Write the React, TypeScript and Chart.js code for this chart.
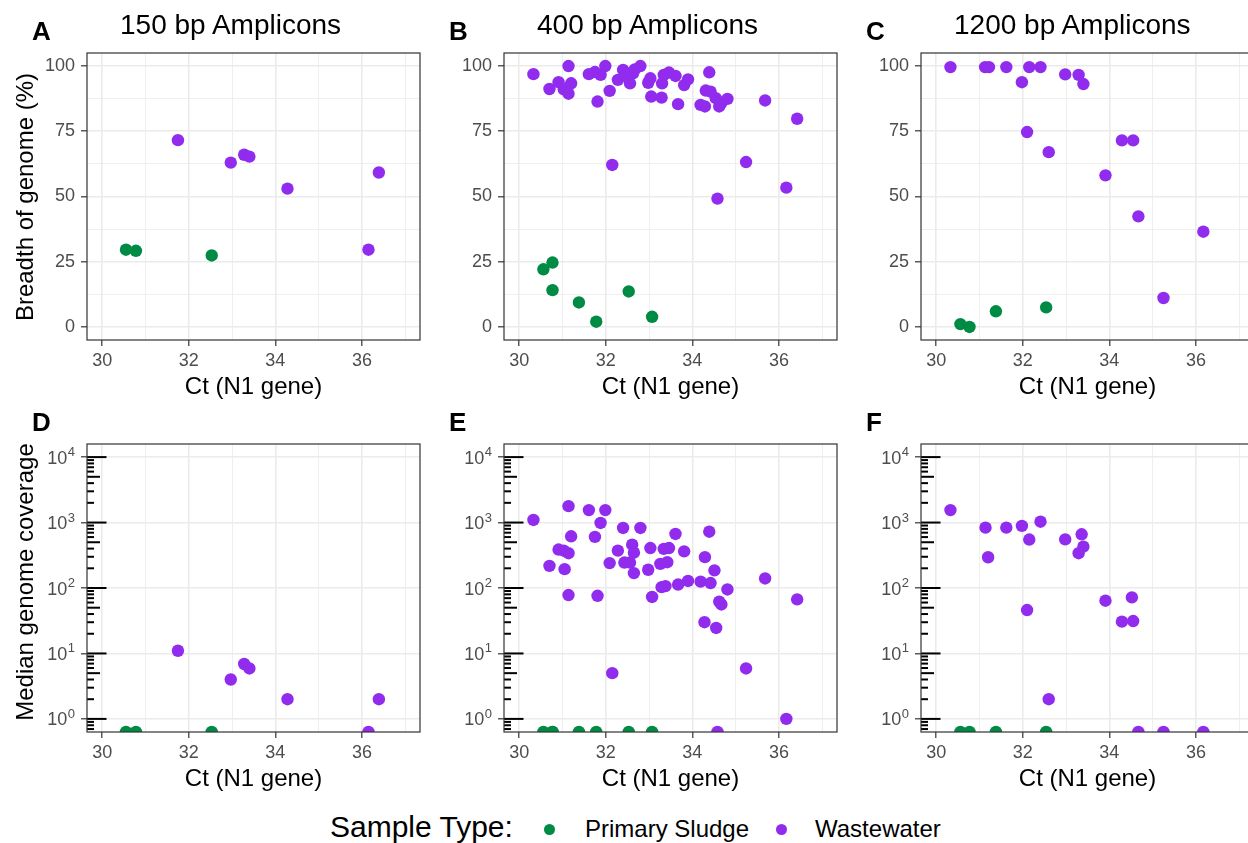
import React, { useEffect, useRef } from 'react';
import { Chart, registerables } from 'chart.js';

Chart.register(...registerables);

const FONT = '"Liberation Sans", Arial, Helvetica, sans-serif';
const GREEN = '#008B45';
const PURPLE = '#912CEE';

// ---- axes ----
const X_MIN = 29.65;
const X_MAX = 37.34;
const X_TICKS = [30, 31, 32, 33, 34, 35, 36, 37];
const X_MAJOR = [30, 32, 34, 36];
const BREADTH_MIN = -5;
const BREADTH_MAX = 105;
const BREADTH_TICKS = [0, 12.5, 25, 37.5, 50, 62.5, 75, 87.5, 100];
const BREADTH_MAJOR = [0, 25, 50, 75, 100];
const COVERAGE_MIN = Math.pow(10, -0.2);
const COVERAGE_MAX = Math.pow(10, 4.2);
const COVERAGE_TICKS = [1, 10, 100, 1000, 10000];
const COVERAGE_BASE = '10';
const COVERAGE_EXPONENTS = ['0', '1', '2', '3', '4'];

const TITLES = ['150 bp Amplicons', '400 bp Amplicons', '1200 bp Amplicons'];
const LETTERS_TOP = ['A', 'B', 'C'];
const LETTERS_BOTTOM = ['D', 'E', 'F'];
const SERIES_NAMES = ['Primary Sludge', 'Wastewater'];

// ---- 150 bp ----
const CT_150_SLUDGE = [30.55, 30.78, 32.53];
const BREADTH_150_SLUDGE = [29.6, 29.2, 27.4];
const COVERAGE_150_SLUDGE = [0, 0, 0];
const CT_150_WW = [31.75, 32.97, 33.28, 33.4, 34.28, 36.39, 36.15];
const BREADTH_150_WW = [71.6, 63.0, 66.0, 65.3, 53.0, 59.2, 29.6];
const COVERAGE_150_WW = [11, 4.0, 6.9, 5.9, 2.0, 2.0, 0];

// ---- 400 bp ----
const CT_400_SLUDGE = [30.56, 30.77, 30.77, 31.38, 31.78, 32.53, 33.07];
const BREADTH_400_SLUDGE = [22.1, 24.7, 14.1, 9.4, 2.0, 13.6, 3.9];
const COVERAGE_400_SLUDGE = [0, 0, 0, 0, 0, 0, 0];
const CT_400_WW_BREADTH = [
  30.33, 30.7, 30.91, 31.14, 31.2, 31.03, 31.14, 31.61, 31.75, 31.88, 31.99, 31.81,
  32.09, 32.28, 32.4, 32.49, 32.56, 32.63, 32.8, 32.67, 32.98, 33.05, 33.03, 33.29,
  33.3, 33.34, 33.46, 33.61, 33.67, 33.81, 33.9, 34.39, 34.19, 34.29, 34.31, 34.42,
  34.54, 34.62, 34.67, 34.81, 35.68, 36.42, 32.15, 35.24, 36.17, 34.58,
];
const BREADTH_400_WW = [
  96.9, 91.2, 93.8, 100, 93.4, 91.1, 89.4, 96.9, 97.7, 96.6, 100, 86.4,
  90.5, 94.7, 98.5, 95.9, 93.4, 97.2, 100, 98.7, 93.6, 88.3, 95.3, 87.9,
  93.4, 96.6, 97.5, 96.2, 85.4, 92.7, 94.9, 97.6, 85.1, 84.5, 90.6, 90.2,
  87.7, 84.5, 85.8, 87.4, 86.8, 79.8, 62.1, 63.2, 53.4, 49.2,
];
const CT_400_WW_COVERAGE = [
  30.33, 31.14, 31.61, 31.99, 31.88, 31.2, 31.75, 30.91, 31.03, 31.14, 30.7, 31.05,
  31.14, 31.81, 32.09, 32.28, 32.4, 32.43, 32.56, 32.61, 32.65, 32.65, 32.8, 32.98,
  33.03, 33.07, 33.29, 33.38, 33.26, 33.42, 33.34, 33.46, 33.61, 33.67, 33.81, 33.9,
  34.19, 34.39, 34.29, 34.42, 34.51, 34.81, 34.62, 34.67, 34.28, 34.55, 35.68, 36.42,
  32.15, 35.24, 36.17, 34.58,
];
const COVERAGE_400_WW = [
  1096, 1780, 1550, 1550, 985, 617, 603, 387, 371, 340, 218, 194,
  78, 76, 240, 373, 827, 245, 245, 459, 346, 169, 827, 190,
  408, 73, 103, 107, 234, 248, 396, 408, 670, 113, 363, 128,
  125, 725, 296, 119, 186, 95, 62, 56, 30, 24.5, 140, 67,
  5, 5.9, 1, 0,
];

// ---- 1200 bp ----
const CT_1200_SLUDGE = [30.56, 30.77, 31.38, 32.54];
const BREADTH_1200_SLUDGE = [1.1, 0, 6.0, 7.5];
const COVERAGE_1200_SLUDGE = [0, 0, 0, 0];
const CT_1200_WW_BREADTH = [
  30.33, 31.13, 31.22, 31.62, 32.15, 32.41, 31.98, 32.98, 33.29, 33.4,
  32.1, 32.6, 33.91, 34.29, 34.55, 34.67, 36.17, 35.25,
];
const BREADTH_1200_WW = [
  99.6, 99.6, 99.6, 99.6, 99.6, 99.6, 93.8, 96.8, 96.6, 93.1,
  74.7, 67.0, 58.1, 71.5, 71.5, 42.4, 36.5, 11.1,
];
const CT_1200_WW_COVERAGE = [
  30.33, 31.14, 31.2, 31.62, 31.98, 32.15, 32.41, 32.1, 32.6, 32.98,
  33.36, 33.4, 33.29, 33.91, 34.52, 34.29, 34.55, 34.67, 35.25, 36.17,
];
const COVERAGE_1200_WW = [
  1550, 835, 295, 835, 890, 550, 1030, 46, 2.0, 553,
  661, 428, 340, 64, 72, 30.6, 31.3, 0, 0, 0,
];

// ---- layout (pixels) ----
const PAD_T = 20;
const PAD_R = 10;
const Y_AXIS_W = 60;
const X_AXIS_H = 36;

const panelPlugin = {
  id: 'panelDeco',
  afterDatasetsDraw(chart: any, _args: any, opts: any) {
    const { ctx, chartArea: a } = chart;
    ctx.save();
    if (opts && opts.log) {
      const ys = chart.scales.y;
      ctx.strokeStyle = '#000000';
      ctx.lineWidth = 2;
      for (let k = -1; k <= 4; k++) {
        for (let m = 1; m <= 9; m++) {
          const v = m * Math.pow(10, k);
          if (v < COVERAGE_MIN || v > COVERAGE_MAX) continue;
          const y = ys.getPixelForValue(v);
          const len = m === 1 ? 19.5 : m === 5 ? 13 : 7;
          ctx.beginPath();
          ctx.moveTo(a.left, y);
          ctx.lineTo(a.left + len, y);
          ctx.stroke();
        }
      }
    }
    ctx.strokeStyle = '#333333';
    ctx.lineWidth = 1.2;
    ctx.strokeRect(a.left, a.top, a.right - a.left, a.bottom - a.top);
    ctx.restore();
  },
  afterDraw(chart: any, _args: any, opts: any) {
    if (!opts || !opts.log) return;
    const { ctx, chartArea: a } = chart;
    const ys = chart.scales.y;
    ctx.save();
    ctx.fillStyle = '#4D4D4D';
    ctx.textAlign = 'right';
    ctx.textBaseline = 'alphabetic';
    COVERAGE_TICKS.forEach((v, i) => {
      const y = ys.getPixelForValue(v);
      const right = a.left - 12;
      ctx.font = `13px ${FONT}`;
      const ew = ctx.measureText(COVERAGE_EXPONENTS[i]).width;
      ctx.fillText(COVERAGE_EXPONENTS[i], right, y - 1);
      ctx.font = `18px ${FONT}`;
      ctx.fillText(COVERAGE_BASE, right - ew - 0.5, y + 6.5);
    });
    ctx.restore();
  },
};

type PanelProps = {
  sludgeX: number[];
  sludgeY: number[];
  wwX: number[];
  wwY: number[];
  log: boolean;
  L: number;
  R: number;
  T: number;
  B: number;
};

function Panel(p: PanelProps) {
  const ref = useRef<HTMLCanvasElement>(null);
  const left = p.L - Y_AXIS_W;
  const top = p.T - PAD_T;
  const width = p.R - p.L + Y_AXIS_W + PAD_R;
  const height = p.B - p.T + PAD_T + X_AXIS_H;

  useEffect(() => {
    if (!ref.current) return;
    const toPts = (xs: number[], ys: number[]) =>
      xs.map((x, i) => ({ x, y: p.log && ys[i] <= 0 ? COVERAGE_MIN : ys[i] }));
    const ds = (data: any[], color: string) => ({
      data,
      backgroundColor: color,
      borderWidth: 0,
      pointRadius: 6.2,
      pointHoverRadius: 6.2,
      pointBorderWidth: 0,
      clip: 0,
    });
    const tickFont = { family: FONT, size: 18 };
    const yMajor = (v: number) => (p.log ? true : BREADTH_MAJOR.includes(v));
    const chart = new Chart(ref.current, {
      type: 'scatter',
      data: {
        datasets: [
          ds(toPts(p.sludgeX, p.sludgeY), GREEN),
          ds(toPts(p.wwX, p.wwY), PURPLE),
        ],
      },
      options: {
        responsive: false,
        animation: false,
        events: [],
        layout: { padding: { top: PAD_T, right: PAD_R, left: 0, bottom: 0 } },
        plugins: {
          legend: { display: false },
          tooltip: { enabled: false },
          title: { display: false },
          panelDeco: { log: p.log },
        } as any,
        scales: {
          x: {
            type: 'linear',
            position: 'bottom',
            min: X_MIN,
            max: X_MAX,
            bounds: 'data',
            afterBuildTicks: (s: any) => {
              s.ticks = X_TICKS.map((v) => ({ value: v }));
            },
            afterFit: (s: any) => {
              s.height = X_AXIS_H;
            },
            ticks: {
              autoSkip: false,
              maxRotation: 0,
              minRotation: 0,
              padding: 4.5,
              color: '#4D4D4D',
              font: tickFont,
              callback: (v: any) => (X_MAJOR.includes(Number(v)) ? String(v) : ''),
            },
            grid: {
              color: '#EBEBEB',
              lineWidth: (c: any) => (c.tick && X_MAJOR.includes(c.tick.value) ? 1.6 : 0.8),
              tickLength: 6,
              tickWidth: 1.2,
              tickColor: (c: any) =>
                c.tick && X_MAJOR.includes(c.tick.value) ? '#333333' : 'rgba(0,0,0,0)',
            },
            border: { display: false },
          },
          y: p.log
            ? {
                type: 'logarithmic',
                position: 'left',
                min: COVERAGE_MIN,
                max: COVERAGE_MAX,
                bounds: 'data',
                afterBuildTicks: (s: any) => {
                  s.ticks = COVERAGE_TICKS.map((v) => ({ value: v }));
                },
                afterFit: (s: any) => {
                  s.width = Y_AXIS_W;
                },
                ticks: {
                  autoSkip: false,
                  padding: 6,
                  color: '#4D4D4D',
                  font: tickFont,
                  callback: () => '',
                },
                grid: {
                  color: '#EBEBEB',
                  lineWidth: 1.6,
                  tickLength: 6,
                  tickWidth: 1.2,
                  tickColor: '#333333',
                },
                border: { display: false },
              }
            : {
                type: 'linear',
                position: 'left',
                min: BREADTH_MIN,
                max: BREADTH_MAX,
                bounds: 'data',
                afterBuildTicks: (s: any) => {
                  s.ticks = BREADTH_TICKS.map((v) => ({ value: v }));
                },
                afterFit: (s: any) => {
                  s.width = Y_AXIS_W;
                },
                ticks: {
                  autoSkip: false,
                  padding: 6,
                  color: '#4D4D4D',
                  font: tickFont,
                  callback: (v: any) => (BREADTH_MAJOR.includes(Number(v)) ? String(v) : ''),
                },
                grid: {
                  color: '#EBEBEB',
                  lineWidth: (c: any) => (c.tick && yMajor(c.tick.value) ? 1.6 : 0.8),
                  tickLength: 6,
                  tickWidth: 1.2,
                  tickColor: (c: any) =>
                    c.tick && yMajor(c.tick.value) ? '#333333' : 'rgba(0,0,0,0)',
                },
                border: { display: false },
              },
        },
      } as any,
      plugins: [panelPlugin],
    });
    return () => chart.destroy();
  }, []);

  return (
    <canvas
      ref={ref}
      width={width}
      height={height}
      style={{ position: 'absolute', left, top, width, height }}
    />
  );
}

function Txt(props: {
  x: number;
  baseline: number;
  size: number;
  bold?: boolean;
  center?: boolean;
  color?: string;
  children: React.ReactNode;
}) {
  const { x, baseline, size, bold, center, color, children } = props;
  const top = baseline - 0.8465 * size;
  return (
    <div
      style={{
        position: 'absolute',
        left: center ? x - 500 : x,
        width: center ? 1000 : undefined,
        top,
        height: size,
        lineHeight: `${size}px`,
        fontSize: size,
        fontWeight: bold ? 'bold' : 'normal',
        textAlign: center ? 'center' : 'left',
        whiteSpace: 'nowrap',
        color: color || '#000000',
        fontFamily: FONT,
      }}
    >
      {children}
    </div>
  );
}

function YTitle(props: { cx: number; cy: number; children: React.ReactNode }) {
  const w = 400;
  const size = 24;
  return (
    <div
      style={{
        position: 'absolute',
        left: props.cx - w / 2,
        top: props.cy - size / 2,
        width: w,
        height: size,
        lineHeight: `${size}px`,
        fontSize: size,
        textAlign: 'center',
        whiteSpace: 'nowrap',
        transform: 'rotate(-90deg)',
        transformOrigin: 'center center',
        fontFamily: FONT,
        color: '#000000',
      }}
    >
      {props.children}
    </div>
  );
}

export default function App() {
  const COLS = [
    { L: 87, R: 420 },
    { L: 504, R: 837 },
    { L: 921, R: 1254 },
  ];
  const ROWS = [
    { T: 53, B: 340 },
    { T: 444, B: 732 },
  ];
  const series = [
    {
      top: { sx: CT_150_SLUDGE, sy: BREADTH_150_SLUDGE, wx: CT_150_WW, wy: BREADTH_150_WW },
      bot: { sx: CT_150_SLUDGE, sy: COVERAGE_150_SLUDGE, wx: CT_150_WW, wy: COVERAGE_150_WW },
    },
    {
      top: { sx: CT_400_SLUDGE, sy: BREADTH_400_SLUDGE, wx: CT_400_WW_BREADTH, wy: BREADTH_400_WW },
      bot: { sx: CT_400_SLUDGE, sy: COVERAGE_400_SLUDGE, wx: CT_400_WW_COVERAGE, wy: COVERAGE_400_WW },
    },
    {
      top: { sx: CT_1200_SLUDGE, sy: BREADTH_1200_SLUDGE, wx: CT_1200_WW_BREADTH, wy: BREADTH_1200_WW },
      bot: { sx: CT_1200_SLUDGE, sy: COVERAGE_1200_SLUDGE, wx: CT_1200_WW_COVERAGE, wy: COVERAGE_1200_WW },
    },
  ];

  return (
    <div
      style={{
        position: 'fixed',
        left: 0,
        top: 0,
        width: 1248,
        height: 843,
        overflow: 'hidden',
        background: '#ffffff',
        fontFamily: FONT,
      }}
    >
      {COLS.map((c, i) => (
        <React.Fragment key={i}>
          <Panel
            sludgeX={series[i].top.sx}
            sludgeY={series[i].top.sy}
            wwX={series[i].top.wx}
            wwY={series[i].top.wy}
            log={false}
            L={c.L}
            R={c.R}
            T={ROWS[0].T}
            B={ROWS[0].B}
          />
          <Panel
            sludgeX={series[i].bot.sx}
            sludgeY={series[i].bot.sy}
            wwX={series[i].bot.wx}
            wwY={series[i].bot.wy}
            log={true}
            L={c.L}
            R={c.R}
            T={ROWS[1].T}
            B={ROWS[1].B}
          />
          <Txt x={c.L - 55} baseline={40} size={26} bold>
            {LETTERS_TOP[i]}
          </Txt>
          <Txt x={c.L - 55} baseline={431} size={26} bold>
            {LETTERS_BOTTOM[i]}
          </Txt>
          <Txt x={c.L + 33} baseline={35} size={28}>
            {TITLES[i]}
          </Txt>
          <Txt x={(c.L + c.R) / 2} baseline={ROWS[0].B + 54} size={24} center>
            Ct (N1 gene)
          </Txt>
          <Txt x={(c.L + c.R) / 2} baseline={ROWS[1].B + 54} size={24} center>
            Ct (N1 gene)
          </Txt>
        </React.Fragment>
      ))}
      <YTitle cx={25} cy={(ROWS[0].T + ROWS[0].B) / 2}>
        Breadth of genome (%)
      </YTitle>
      <YTitle cx={25} cy={582}>
        Median genome coverage
      </YTitle>

      <Txt x={330} baseline={837} size={30}>
        Sample Type:
      </Txt>
      <div
        style={{
          position: 'absolute',
          left: 549 - 5.5,
          top: 829 - 5.5,
          width: 11,
          height: 11,
          borderRadius: '50%',
          background: GREEN,
        }}
      />
      <Txt x={585} baseline={837} size={24}>
        {SERIES_NAMES[0]}
      </Txt>
      <div
        style={{
          position: 'absolute',
          left: 781 - 5.5,
          top: 829 - 5.5,
          width: 11,
          height: 11,
          borderRadius: '50%',
          background: PURPLE,
        }}
      />
      <Txt x={815} baseline={837} size={24}>
        {SERIES_NAMES[1]}
      </Txt>
    </div>
  );
}
